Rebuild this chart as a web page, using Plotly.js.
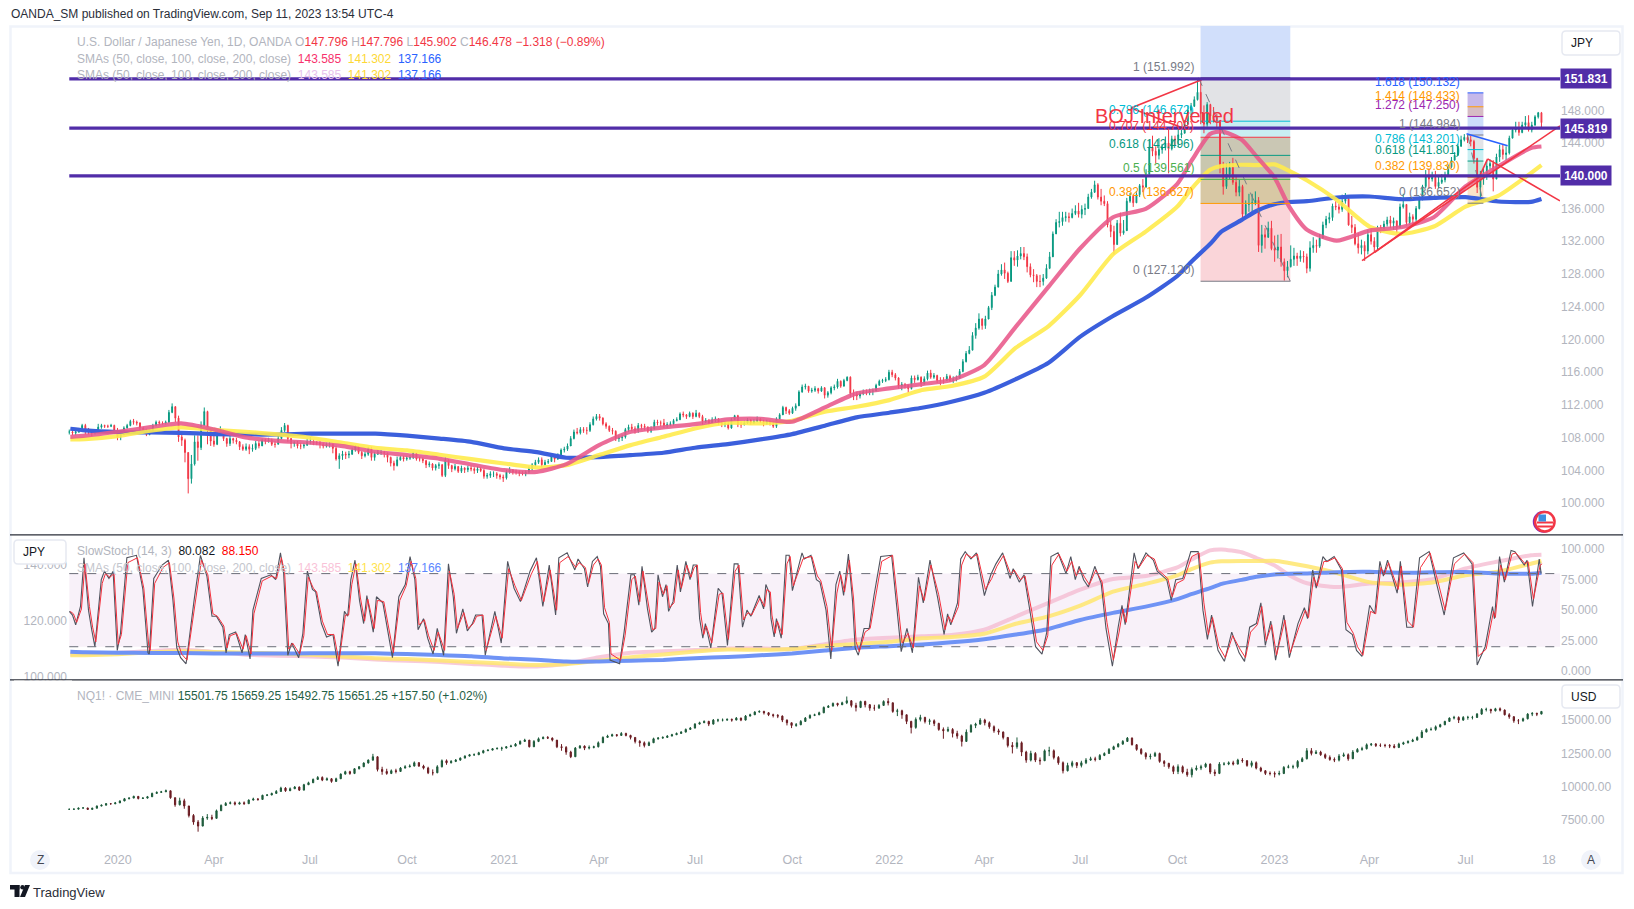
<!DOCTYPE html>
<html>
<head>
<meta charset="utf-8">
<script src="https://cdn.plot.ly/plotly-3.0.0.min.js"></script>
<style>html,body{margin:0;padding:0;background:#fff}#chart{width:1634px;height:909px}</style>
</head>
<body>
<div id="chart"></div>
<script>
// ---------- USD/JPY bars (Nov 2019 .. Sep 2023, about ten bars a month)
const usdClose = [
108.7,108.6,108.7,109.0,109.5,
108.9,108.7,108.6,108.7,109.3,109.5,109.4,109.4,109.5,108.9,
108.1,108.4,109.2,109.5,110.0,109.9,109.8,109.2,108.9,108.4,
108.6,109.5,109.9,109.8,109.8,109.9,111.1,111.8,110.4,108.1,
107.7,106.2,103.0,104.8,107.5,106.8,109.5,111.2,108.9,107.6,
107.2,108.5,108.9,107.9,107.3,107.9,107.7,107.5,106.9,106.6,
106.9,106.6,106.7,107.3,107.0,107.7,107.6,107.7,107.2,107.2,
107.9,108.9,109.5,107.9,107.3,107.4,107.0,107.0,107.1,107.5,
107.5,107.4,107.4,107.2,107.0,107.2,107.2,106.7,105.4,105.8,
106.0,105.9,106.0,106.5,106.9,106.2,105.8,106.0,106.6,105.6,
106.0,106.2,106.2,106.1,105.6,104.9,104.6,105.3,105.6,105.4,
105.5,105.6,106.1,105.4,105.4,105.2,104.7,104.8,104.3,104.6,
104.7,103.4,105.3,104.6,104.2,104.5,103.9,104.3,104.1,104.3,
104.2,104.0,104.2,104.0,103.3,103.4,103.6,103.6,103.4,103.2,
103.1,103.8,104.1,103.8,103.8,103.7,103.6,103.8,104.2,104.7,
105.0,105.3,104.7,105.0,105.1,105.7,105.4,105.9,106.5,106.6,
107.0,107.9,108.7,108.6,109.0,108.9,108.9,109.6,110.3,110.6,
110.4,109.7,109.4,108.9,108.8,107.9,108.0,108.1,109.0,109.3,
109.1,108.9,109.5,109.4,109.3,108.8,109.1,109.9,109.8,109.8,
109.5,109.6,109.7,110.1,110.2,110.9,110.8,110.6,111.0,110.6,
111.0,110.6,110.0,110.1,109.8,110.2,110.3,109.8,109.6,109.7,
109.2,110.2,110.7,109.6,109.6,109.8,110.2,109.8,110.0,110.3,
110.0,109.7,110.0,109.7,109.4,110.3,110.8,111.7,111.3,111.0,
111.6,111.9,113.6,114.2,114.3,113.7,113.8,114.0,113.7,114.1,
113.2,113.5,114.1,114.2,114.9,114.3,115.0,115.4,113.4,113.3,
113.1,113.4,113.6,113.5,113.7,113.7,114.4,114.9,115.0,115.1,
116.0,115.7,115.3,114.3,114.5,114.4,114.0,115.3,115.1,115.4,
114.6,115.2,115.9,115.4,115.6,115.0,115.0,115.0,115.5,115.0,
115.1,115.3,116.1,117.3,118.3,118.7,120.5,121.4,122.5,121.7,
122.5,123.9,125.4,126.4,128.0,128.5,128.1,127.1,130.0,129.7,
130.2,130.5,130.1,128.9,127.9,127.8,127.1,127.1,127.5,128.7,
130.1,132.9,134.3,134.4,134.9,135.0,134.9,135.4,135.7,135.3,
135.9,136.0,137.4,138.0,138.9,137.4,136.9,136.6,134.0,133.2,
131.6,134.2,133.0,133.3,136.9,137.5,136.7,137.7,138.8,138.6,
140.2,143.5,143.0,142.5,143.2,143.5,144.0,143.3,144.5,144.4,
145.0,145.2,146.4,148.0,148.5,149.3,150.2,147.6,146.3,148.7,
147.3,147.3,146.6,141.0,138.7,140.2,141.0,139.2,138.0,138.7,
135.3,136.5,136.6,136.7,137.0,131.5,132.8,132.5,133.6,131.1,
130.9,131.3,129.5,128.4,128.9,129.8,130.2,129.9,130.2,130.1,
128.7,131.2,131.5,131.4,132.4,134.0,134.7,134.9,136.3,136.2,
135.9,136.9,137.2,134.0,133.7,131.7,131.2,131.5,130.8,132.8,
132.0,131.3,133.7,133.6,134.1,134.6,134.2,134.5,133.7,136.2,
136.5,134.3,135.0,134.7,136.0,137.2,138.7,139.9,139.6,139.8,
138.7,139.2,139.5,140.1,141.1,141.9,142.5,143.6,144.4,144.7,
144.4,144.2,142.1,138.6,139.7,140.0,141.2,141.5,139.6,142.3,
143.2,142.6,142.8,144.6,145.6,145.9,145.3,146.2,146.5,145.6,
146.2,147.2,147.7,146.5];
const usdHigh = [
109.0,108.9,108.9,109.2,109.7,
109.7,109.2,108.9,109.0,109.7,109.7,109.6,109.6,109.7,109.6,
109.2,108.6,109.4,109.7,110.2,110.3,110.1,109.9,109.3,109.1,
109.0,109.7,110.1,110.1,110.0,110.1,111.4,112.2,111.5,110.7,
108.5,107.9,106.2,105.9,108.3,108.3,110.0,111.7,111.3,109.2,
108.7,109.0,109.4,109.0,108.0,108.2,108.0,108.0,107.6,107.2,
107.3,107.2,107.2,107.6,107.6,107.9,107.9,108.0,107.9,107.6,
108.2,109.3,109.8,109.6,107.8,107.6,107.6,107.4,107.4,107.9,
108.1,107.8,107.6,107.6,107.4,107.4,107.5,107.3,107.0,106.1,
106.4,106.3,106.4,106.8,107.1,107.0,106.4,106.3,106.9,106.9,
106.3,106.5,106.5,106.4,106.2,105.7,105.2,105.7,105.8,105.8,
105.8,105.9,106.3,106.1,105.7,105.6,105.3,105.1,104.9,104.8,
105.0,104.8,105.6,105.3,104.7,104.8,104.5,104.6,104.4,104.6,
104.6,104.4,104.5,104.4,104.2,103.7,103.9,103.9,103.8,103.6,
103.5,104.1,104.4,104.1,104.1,104.0,103.9,104.0,104.5,104.9,
105.3,105.6,105.6,105.3,105.4,106.0,105.8,106.1,106.7,106.9,
107.3,108.2,109.0,109.2,109.3,109.3,109.3,109.9,110.6,110.9,
110.9,110.5,109.9,109.5,109.2,108.9,108.3,108.4,109.2,109.6,
109.7,109.4,109.8,109.7,109.7,109.4,109.4,110.2,110.2,110.1,
110.3,109.9,110.0,110.3,110.5,111.1,111.2,110.9,111.2,111.1,
111.4,111.1,110.8,110.4,110.3,110.5,110.6,110.4,110.0,110.0,
109.9,110.4,110.8,110.8,110.0,110.1,110.4,110.3,110.3,110.6,
110.4,110.2,110.2,110.1,110.0,110.5,111.0,111.9,111.8,111.5,
111.8,112.2,113.8,114.5,114.6,114.3,114.1,114.3,114.1,114.3,
114.2,113.7,114.3,114.5,115.2,115.0,115.2,115.5,115.5,113.9,
113.6,113.7,113.9,113.9,114.0,114.0,114.6,115.1,115.2,115.4,
116.3,116.3,115.9,115.4,114.8,114.7,114.5,115.6,115.6,115.7,
115.5,115.5,116.2,116.3,115.9,115.7,115.4,115.4,115.8,115.7,
115.5,115.6,116.4,117.6,118.6,119.2,120.9,122.0,123.2,122.6,
122.9,124.1,125.8,126.7,128.5,129.2,129.4,128.3,130.8,130.8,
130.9,131.3,131.3,130.5,129.3,128.6,128.0,127.9,128.0,129.2,
130.7,133.2,134.7,135.6,135.6,135.6,135.5,136.0,136.4,136.7,
136.4,136.6,137.8,138.4,139.4,139.1,138.4,137.6,136.9,134.5,
133.9,134.6,135.5,134.6,137.3,137.9,137.7,138.1,139.0,139.6,
140.8,144.4,144.9,143.6,144.6,143.9,144.8,145.9,144.9,144.9,
145.6,145.6,146.8,148.6,148.9,149.7,151.9,151.7,148.6,149.0,
148.8,148.4,147.6,146.8,141.7,141.5,141.7,142.2,139.9,139.5,
138.9,137.0,137.8,137.8,138.1,137.4,134.0,133.6,134.4,134.5,
132.7,132.8,132.9,129.9,129.6,131.5,131.2,130.6,130.9,130.8,
130.5,132.0,132.5,132.2,132.9,134.4,135.1,135.5,136.6,136.9,
136.6,137.7,137.9,137.3,135.1,134.1,133.0,132.2,132.0,133.4,
133.6,132.5,133.9,134.0,134.5,135.0,135.1,134.9,134.5,136.6,
137.8,136.4,135.5,135.3,136.3,137.5,138.9,140.7,140.9,140.5,
140.6,139.9,140.2,140.5,141.4,142.3,142.9,143.9,144.9,145.1,
145.0,144.9,144.4,142.2,140.6,140.9,141.9,142.0,141.9,142.7,
143.8,143.9,143.6,144.9,145.9,146.6,146.6,146.6,147.3,147.4,
146.6,147.4,147.8,147.8];
const usdLow = [
108.4,108.3,108.3,108.6,108.9,
108.4,108.4,108.2,108.4,108.6,109.1,109.2,109.2,109.3,108.6,
107.7,107.7,108.3,109.1,109.4,109.6,109.5,108.9,108.6,108.2,
108.3,108.5,109.4,109.5,109.6,109.6,109.8,111.0,109.9,107.5,
107.0,105.0,101.2,102.4,104.6,105.2,106.5,109.9,107.2,107.0,
106.9,107.1,108.4,107.6,106.9,107.0,107.3,107.2,106.5,106.4,
106.4,106.0,106.3,106.5,106.7,107.0,107.2,107.4,107.0,106.8,
107.2,107.8,108.7,107.5,106.7,106.9,106.7,106.6,106.7,107.0,
107.2,107.1,107.1,106.7,106.7,106.8,106.8,106.1,105.2,104.2,
105.3,105.4,105.5,105.9,106.3,106.0,105.4,105.6,105.8,105.2,
105.2,105.9,105.9,105.6,105.0,104.5,104.0,104.5,105.2,105.1,
105.2,105.3,105.4,105.2,105.1,104.9,104.3,104.4,104.0,104.0,
104.2,103.2,103.2,104.2,103.8,104.0,103.7,103.7,103.7,103.8,
103.9,103.6,103.7,103.8,103.0,103.0,103.1,103.2,103.0,102.9,
102.6,102.9,103.6,103.5,103.5,103.3,103.4,103.3,103.6,104.0,
104.5,104.8,104.4,104.6,104.8,105.1,105.0,105.3,105.9,106.2,
106.4,107.1,107.8,108.4,108.4,108.6,108.4,108.7,109.5,110.1,
110.1,109.5,109.1,108.7,108.4,107.6,107.5,107.6,107.9,108.7,
108.8,108.5,108.6,109.0,108.9,108.6,108.6,109.0,109.5,109.4,
109.2,109.2,109.4,109.5,110.0,110.2,110.5,110.3,110.5,110.3,
110.5,110.4,109.6,109.8,109.5,109.8,109.9,109.6,109.3,109.3,
109.0,109.1,110.2,109.3,109.2,109.5,109.7,109.6,109.7,109.9,
109.8,109.4,109.6,109.5,109.2,109.2,110.3,111.0,110.9,110.8,
110.9,111.3,112.2,113.5,113.9,113.5,113.5,113.6,113.4,113.6,
112.8,112.9,113.3,113.8,114.0,114.1,114.5,114.9,113.0,112.6,
112.6,112.8,113.2,113.2,113.2,113.2,113.7,114.4,114.7,114.8,
115.0,115.4,115.0,114.0,113.8,114.0,113.5,113.9,114.7,115.0,
114.2,114.5,115.0,115.2,115.2,114.7,114.4,114.6,115.1,114.8,
114.7,114.9,115.2,116.0,117.2,118.2,118.7,120.1,121.2,121.2,
121.3,122.6,123.6,125.3,126.4,127.8,127.4,126.9,127.1,129.0,
128.9,129.8,129.7,128.2,127.6,127.0,126.4,126.4,126.6,127.4,
128.6,130.5,132.9,133.7,133.9,134.4,134.3,134.8,135.2,134.9,
134.8,135.2,136.0,137.2,137.9,137.1,136.4,136.3,133.7,132.5,
130.4,131.6,132.6,132.8,133.6,136.7,136.2,136.7,137.4,138.0,
138.8,140.2,142.4,141.5,142.0,142.7,143.1,140.3,143.1,143.7,
143.5,144.6,145.4,146.2,147.4,148.4,149.2,146.3,145.2,146.0,
146.3,146.5,145.9,140.3,137.7,138.4,139.6,138.9,137.5,137.5,
134.5,134.9,135.6,135.5,136.4,130.7,130.6,131.1,132.4,130.9,
129.5,129.9,128.9,127.2,127.6,128.8,129.0,129.0,129.5,129.4,
128.1,128.3,130.6,130.6,131.2,132.3,133.6,134.2,134.5,135.8,
135.4,135.6,136.6,133.9,133.0,131.5,130.5,130.4,129.6,130.4,
131.6,130.7,131.0,133.0,133.2,133.8,133.6,133.4,133.0,133.7,
136.0,133.9,134.0,134.1,134.4,135.9,137.0,138.5,138.4,139.3,
138.4,138.5,139.0,139.2,139.9,140.9,141.9,142.7,143.7,144.2,
144.0,143.6,141.5,137.9,137.3,138.9,139.5,140.8,138.1,139.8,
141.7,142.0,141.9,142.6,144.6,145.3,144.9,145.2,145.9,145.4,
145.3,146.1,147.0,145.9];

// ---------- moving averages, one reading per month plus a few around the turns
const smaDates = ['2019-11-17','2019-12-01','2020-01-01','2020-02-01','2020-03-01','2020-04-01','2020-05-01','2020-06-01','2020-07-01','2020-08-01','2020-09-01','2020-10-01','2020-11-01','2020-12-01','2021-01-01','2021-02-01','2021-03-01','2021-04-01','2021-05-01','2021-06-01','2021-07-01','2021-08-01','2021-09-01','2021-10-01','2021-11-01','2021-12-01','2022-01-01','2022-02-01','2022-03-01','2022-04-01','2022-05-01','2022-06-01','2022-07-01','2022-08-01','2022-09-01','2022-10-01','2022-10-15','2022-11-01','2022-11-12','2022-12-01','2022-12-15','2023-01-01','2023-01-15','2023-02-01','2023-03-01','2023-04-01','2023-05-01','2023-06-01','2023-07-01','2023-08-01','2023-09-01','2023-09-11'];
const sma50 = [108.12,108.25,108.73,109.3,109.75,109.02,108.04,107.63,107.39,106.98,106.29,105.88,105.43,104.74,104.05,103.84,104.78,107.1,108.73,109.26,109.67,110.24,110.32,109.96,111.71,113.42,114.03,114.56,115.05,116.88,121.57,126.46,131.15,134.94,135.96,139.02,141.96,145.1,145.43,144.41,142.37,139.8,136.24,133.39,132.08,133.31,133.71,134.94,138.69,141.14,143.39,143.58];
const sma100 = [107.8,107.84,108.2,108.86,109.26,108.98,108.73,108.41,108.0,107.39,106.78,106.45,105.92,105.39,104.86,104.37,104.66,105.88,107.1,108.12,109.14,109.83,109.75,110.08,111.18,111.79,112.6,113.83,114.32,115.46,119.0,121.65,125.44,130.41,133.18,136.24,138.5,140.73,141.2,141.35,141.3,141.39,140.6,139.43,137.06,133.8,132.9,133.8,136.24,137.55,140.33,141.3];
const sma200 = [109.1,108.9,108.7,108.65,108.6,108.45,108.4,108.4,108.5,108.5,108.5,108.25,107.9,107.5,106.7,106.25,105.56,105.64,105.88,106.17,106.78,107.23,107.8,108.45,109.47,110.49,111.06,111.67,112.4,113.5,115.17,117.17,120.35,122.87,125.1,127.76,129.6,131.67,133.2,134.61,135.7,136.53,136.8,136.9,137.35,137.47,137.14,137.3,137.39,136.86,136.82,137.17];

// ---------- slow stochastic: readings at the visible turns, by chart bar number
const stochBars = [0,1,2,3.5,4.6,6,7,8,10,11,12.4,13.7,15,16,18,21,23,24.6,25,26.4,29,31,32.4,33.6,34.8,36.5,39,41,43,44.6,46,48,49,50,52,54,55,56.5,57.4,58.6,60,63,64.5,66,67,68.3,69.5,71.7,73,74.4,76,77,78.8,80.4,82.4,84,86,87,88,89.3,90.7,92,93,95,96,98,101,103,105,106.5,108,109,110.7,112,113.7,115,117,118.5,120,121,123,124.4,126,127,129,130,133,135,137,139,141,144,146,148,150,152,153,155.6,
158,159,161,162,163.5,165,166,167,168.5,169,172,173.4,175.5,176.6,178,179,180.7,182,183,184,185.4,186.5,187.3,188.7,190,191,192.7,194,195,196,197,198,198.8,200.5,202.8,204,205.7,207.8,209,210.4,211.8,213,215.6,217,217.7,218.8,219.3,220.3,221,222.5,224,225,226,229,229.7,231.8,233.5,234.6,236.5,238,239.6,240.8,242,243.5,244.8,245.6,246.6,248.4,250,251.5,253.6,257,260,261.8,263.5,265.4,266.9,269,271.4,273.4,274.5,275.5,277.6,278.6,280,281.8,283.5,286,288,289.6,291.7,294,295,296.9,298.4,300.5,302,304,305.5,306.8,309,
311.5,313,314.4,315.6,317,318.5,320.5,322.5,324,326,327.8,329,330,332.8,334,336.5,338.8,340,343,344.4,345.8,348,350.5,352.8,354.3,355.7,357,359,361,363.3,365.6,367.3,368.9,371,372.4,373.8,375.5,377,379.6,381.3,384,386,387,388.6,389.7,391.8,393,395.3,397.6,399,401,402.3,404,406.4,408,409.6,410.7,412,415,416,418,419.8,422,425,427.3,429.7,432.6,435.8,438.4,440,442.5,444.8,445.4,447,448.5,450.6,451.8,454.7,455.6,457.3,459.4,460];
const stochK = [49,46,38,53,93,50,34,20,75,82,76,82,17,31,93,95,67,15,14,76,87,91,58,19,11,6,58,95,78,45,45,36,15,30,32,15,30,10,50,62,76,79,75,97,80,13,23,11,31,82,67,65,39,28,30,4,49,45,75,91,58,39,62,32,61,56,11,61,71,94,75,34,43,27,14,35,13,88,61,31,51,33,39,46,46,13,49,23,90,68,57,82,93,53,87,46,93,97,
83,92,84,69,90,94,86,47,39,9,6,32,79,79,54,86,51,32,35,79,61,71,49,57,87,65,90,75,87,87,43,27,39,19,68,64,21,88,88,36,50,45,62,51,71,64,43,28,43,27,95,95,66,97,92,95,75,73,50,10,71,82,62,96,57,19,13,35,35,62,94,95,16,35,15,77,56,91,60,30,47,38,56,92,98,92,97,62,79,88,97,76,84,73,79,45,20,14,32,94,97,
80,94,75,86,75,69,86,72,35,4,36,54,38,97,84,97,91,82,75,58,75,76,98,98,50,26,46,17,8,32,15,8,36,39,56,21,41,9,46,11,39,52,43,83,68,94,90,94,83,34,30,17,12,54,47,90,78,91,64,90,36,36,93,98,72,46,93,97,88,5,20,53,43,94,73,99,98,87,91,53,92,80];
const stochD = [49,47,40,51,88,53,36,24,72,80,77,80,22,30,89,93,68,19,17,72,85,89,60,24,14,9,55,91,79,47,45,37,19,29,31,18,29,14,47,60,74,78,76,93,81,18,23,14,29,77,68,65,41,30,30,8,46,46,71,88,60,41,59,35,58,57,15,58,70,90,76,38,42,29,17,32,17,82,63,35,48,35,39,45,46,17,45,27,84,70,58,79,90,57,83,50,89,94,
85,89,85,72,87,92,87,52,40,14,9,29,75,78,57,82,54,34,35,73,63,70,52,56,83,68,87,77,85,87,48,30,37,23,63,64,26,82,87,42,48,46,60,53,67,65,46,31,41,30,88,94,70,92,93,94,78,74,53,17,64,79,65,91,60,24,16,32,35,58,90,95,23,31,19,70,58,87,63,34,45,40,53,87,96,93,96,67,76,86,95,79,83,75,78,49,24,17,29,87,96,
82,90,78,84,77,71,83,73,40,9,32,51,40,90,85,95,92,83,76,61,72,75,94,97,56,30,44,20,11,29,18,11,32,38,53,25,38,13,42,15,36,50,44,77,70,90,90,93,84,40,31,20,13,49,47,85,79,89,67,86,41,36,85,97,75,50,88,96,89,12,18,49,44,87,75,96,97,88,90,59,87,88];

// ---------- NQ1! bars, about seven a month
const nqClose = [8310,8320,8400,
8410,8300,8390,8550,8620,8730,8720,
8790,8930,9100,9150,9280,9120,9150,
9250,9500,9580,9620,9700,9180,8650,
8950,8560,7850,7350,7050,7650,7700,
7630,8200,8600,8750,8800,8700,8800,
8730,9000,9080,9050,9360,9380,9500,
9650,9900,9700,9850,9980,9750,10150,
10300,10550,10700,10500,10600,10400,10600,
10950,11130,11000,11350,11500,11780,12000,
12250,11300,11150,11000,11200,11150,11400,
11500,11550,11800,11550,11400,11050,11050,
11500,11950,11800,11900,12000,12150,12300,
12400,12400,12550,12700,12750,12850,12880,
12900,13000,13050,13200,13400,13500,13000,
13400,13600,13700,13650,13500,13000,12950,
12600,12250,12900,13050,12900,12950,13000,
13300,13700,13800,13900,13850,14000,13850,
13700,13400,13300,13100,13300,13600,13650,
13700,13800,13900,14000,14100,14300,14400,
14700,14800,14900,14700,15000,15000,15000,
15050,15000,15150,15000,15300,15400,15600,
15650,15550,15400,15350,15300,15000,14800,
14600,14650,14900,15150,15350,15400,15550,
15950,16050,16250,16150,16300,16450,16100,
15950,16400,16150,15900,15900,16100,16400,
16300,15650,15700,15400,14900,14450,15050,
15200,14900,14950,14750,14300,14200,14300,
14000,13800,13400,14100,14600,14700,15000,
14800,14500,14200,14100,13700,13100,13000,
13300,12600,12000,12500,12000,11950,12700,
12700,12200,11800,11200,11600,11800,11600,
11800,12000,12100,12050,12350,12500,12800,
13000,13200,13400,13650,13150,12800,12500,
12250,12300,12500,11900,11750,11500,11150,
11500,11100,10900,11300,11400,11500,11700,
11100,11000,11700,11700,11800,11700,12000,
11950,11600,11800,11400,11200,11000,11000,
10950,11000,11450,11500,11500,11900,12100,
12700,12500,12600,12400,12200,12050,12000,
12300,12400,12100,12600,12800,12850,13150,
13200,13100,13100,13100,13050,12950,13200,
13300,13400,13500,13700,14100,14300,14300,
14500,14650,14900,15150,15200,15000,15200,
15200,15200,15450,15800,15800,15700,15850,
15750,15400,15250,14950,14950,15100,15450,
15500,15450,15651];
const nqHigh = [8350,8370,8430,
8480,8420,8430,8600,8660,8770,8770,
8860,8980,9160,9210,9330,9290,9220,
9310,9560,9650,9690,9790,9700,9180,
9180,9100,8480,7950,7500,7800,7950,
7900,8290,8680,8850,8900,8900,8880,
8900,9050,9180,9150,9400,9450,9560,
9750,10000,9970,9950,10050,10020,10220,
10380,10620,10800,10780,10700,10650,10680,
11000,11200,11200,11400,11550,11830,12050,
12470,12100,11500,11350,11300,11350,11480,
11620,11680,11900,11850,11650,11500,11300,
11620,12050,12050,12000,12080,12200,12360,
12460,12500,12620,12770,12800,12900,12950,
13000,13050,13150,13280,13480,13600,13500,
13500,13700,13780,13800,13700,13500,13200,
13050,12700,12980,13130,13100,13100,13080,
13400,13780,13900,13980,13950,14100,14050,
13900,13700,13500,13400,13400,13680,13730,
13780,13870,13970,14070,14170,14370,14480,
14770,14880,14980,14950,15080,15100,15120,
15130,15120,15230,15180,15380,15480,15670,
15730,15700,15600,15480,15450,15350,15050,
14800,14780,15000,15230,15430,15480,15630,
16020,16120,16320,16300,16380,16770,16500,
16300,16450,16450,16200,16150,16200,16480,
16650,16300,15850,15780,15400,14950,15200,
15400,15250,15100,15050,14800,14450,14500,
14400,14200,13900,14300,14700,14800,15150,
15100,14900,14600,14350,14150,13700,13350,
13700,13400,12700,12700,12600,12200,12800,
13000,12800,12300,11900,11800,11950,11850,
11950,12150,12250,12250,12450,12580,12900,
13080,13280,13500,13730,13700,13200,12900,
12600,12480,12620,12560,12000,11800,11600,
11680,11600,11350,11450,11600,11650,11800,
11750,11300,11850,11850,11900,11950,12100,
12150,12000,11950,11900,11500,11250,11150,
11150,11200,11550,11650,11650,12000,12220,
12900,12900,12750,12700,12500,12350,12200,
12450,12560,12500,12750,12900,13000,13250,
13280,13280,13250,13220,13200,13200,13300,
13380,13480,13600,13780,14250,14380,14450,
14600,14720,14950,15200,15320,15280,15300,
15320,15320,15530,15900,15930,15850,15920,
15950,15800,15520,15300,15080,15180,15520,
15600,15560,15659];
const nqLow = [8270,8280,8310,
8380,8260,8290,8400,8540,8630,8670,
8700,8780,8950,9060,9150,9050,9080,
9120,9280,9500,9550,9620,9100,8500,
8600,8350,7700,7150,6630,7100,7520,
7500,7630,8200,8600,8680,8600,8680,
8650,8720,8980,8950,9040,9300,9370,
9500,9640,9620,9680,9840,9680,9720,
10150,10290,10530,10420,10480,10300,10380,
10580,10920,10900,10950,11300,11480,11750,
11950,11150,10900,10900,10950,11000,11120,
11380,11450,11530,11500,11300,10950,10850,
11020,11450,11650,11750,11850,11950,12130,
12280,12320,12380,12500,12680,12730,12800,
12700,12880,12980,13030,13180,13380,12950,
12980,13350,13600,13580,13400,12900,12700,
12400,12150,12260,12880,12750,12800,12880,
12950,13280,13700,13780,13750,13820,13780,
13550,13250,13000,12950,13050,13280,13530,
13600,13680,13820,13900,13980,14080,14270,
14380,14680,14800,14550,14670,14850,14900,
14950,14880,15000,14920,14980,15280,15380,
15570,15420,15300,15200,15150,14850,14600,
14400,14500,14620,14880,15120,15300,15370,
15520,15920,16030,16030,16130,16200,15950,
15650,15900,15950,15700,15700,15850,16080,
16100,15550,15300,15100,14700,14000,14350,
14900,14750,14650,14550,14200,13600,14100,
13700,13600,13020,13380,14080,14400,14650,
14600,14350,14050,13900,13550,12950,12500,
12850,12300,11800,11900,11850,11650,11950,
12300,12050,11650,11000,11150,11450,11400,
11450,11700,11950,11900,12000,12300,12480,
12780,12950,13150,13380,13100,12700,12400,
12050,12050,12250,11800,11500,11350,10950,
10950,10990,10750,10700,11200,11250,11420,
10950,10800,10950,11600,11620,11600,11680,
11800,11500,11450,11300,11100,10880,10850,
10700,10850,10950,11380,11350,11380,11850,
12050,12350,12450,12320,12080,11950,11850,
11900,12250,11950,12080,12600,12700,12800,
13050,12980,12980,12950,12900,12880,12900,
13150,13250,13350,13470,13650,14100,14200,
14200,14450,14620,14880,15050,14780,14950,
15030,15050,15170,15400,15650,15500,15650,
15650,15350,15100,14800,14700,14880,15050,
15300,15300,15492];

// ---------- axis ticks
const timeTickDates = ['2020-01-01','2020-04-01','2020-07-01','2020-10-01','2021-01-01','2021-04-01','2021-07-01','2021-10-01','2022-01-01','2022-04-01','2022-07-01','2022-10-01','2023-01-01','2023-04-01','2023-07-01','2023-09-18'];
const timeTickLabels = ['2020','Apr','Jul','Oct','2021','Apr','Jul','Oct','2022','Apr','Jul','Oct','2023','Apr','Jul','18'];
const priceTicks = [100,104,108,112,116,120,124,128,132,136,140,144,148];
const stochTicks = [0,25,50,75,100];
const stochPriceTicks = [100,120,140];
const nqTicks = [7500,10000,12500,15000];

// ---------- drawn levels and Fibonacci tools
const hLevels = [151.831,145.819,140.0];
const hLevelLabels = ['151.831','145.819','140.000'];
const fibAValues = [151.992,146.672,144.708,142.496,139.561,136.627,127.12];
const fibALabels = ['1 (151.992)','0.786 (146.672)','0.707 (144.708)','0.618 (142.496)','0.5 (139.561)','0.382 (136.627)','0 (127.120)'];
const fibALine = ['#787b86','#00bcd4','#f23645','#089981','#4caf50','#ff9800','#787b86'];
const fibAFill = ['#e2e3e6','#c9eef2','#cac7b4','#c9c7ae','#d8c8a4','#fad5d9'];
const fibBValues = [150.132,148.433,147.25,144.984,143.201,141.801,139.83,136.652];
const fibBLabels = ['1.618 (150.132)','1.414 (148.433)','1.272 (147.250)','1 (144.984)','0.786 (143.201)','0.618 (141.801)','0.382 (139.830)','0 (136.652)'];
const fibBLine = ['#2962ff','#ff9800','#9c27b0','#787b86','#00bcd4','#089981','#ff9800','#787b86'];
const fibBFill = ['#c5b8ea','#d6bcc5','#cddcfb','#e2e3e6','#c9eef2','#c4e8e0','#fbe3c9'];

const W = 1634, H = 909;
const pX = v => v / W, pY = v => 1 - v / H;
const FONT = '"Liberation Sans", Arial, sans-serif';
const GREY = '#b2b5be';
const DAY = 86400000;
const lastBar = Date.UTC(2023, 8, 11);
const firstBar = Date.UTC(2019, 10, 16);
const iso = ms => new Date(ms).toISOString().slice(0, 19).replace('T', ' ');
const spread = n => Array.from({length: n}, (_, i) => iso(firstBar + i * (lastBar - firstBar) / (n - 1)));
const usdDates = spread(usdClose.length);
const nqDates = spread(nqClose.length);
const stochDatesK = stochBars.map(b => iso(firstBar + b * 3.032 * DAY));
const stochDatesD = stochBars.map(b => iso(firstBar + (b + 0.3) * 3.032 * DAY));
const opens = c => c.map((v, i) => i ? c[i - 1] : v);

const rangeStart = '2019-09-21 05:00', rangeEnd = '2023-09-28 14:00', dataStart = '2019-11-16';

const sma = (x, y, yaxis, color, w, op) => ({type: 'scatter', mode: 'lines', x, y, yaxis, opacity: op,
  line: {color, width: w, shape: 'spline', smoothing: 0.6}, hoverinfo: 'skip'});

const traces = [
  {type: 'candlestick', x: usdDates, open: opens(usdClose), high: usdHigh, low: usdLow, close: usdClose, yaxis: 'y',
    increasing: {line: {color: '#089981', width: 1}, fillcolor: '#089981'},
    decreasing: {line: {color: '#f23645', width: 1}, fillcolor: '#f23645'}, whiskerwidth: 0},
  sma(smaDates, sma200, 'y', '#3b5fdc', 4.2, 1),
  sma(smaDates, sma100, 'y', '#ffeb4d', 4.2, 0.9),
  sma(smaDates, sma50, 'y', '#e8588a', 4.2, 0.88),
  sma(smaDates, sma50, 'y2', '#f4b8cf', 4, 0.75),
  sma(smaDates, sma100, 'y2', '#ffe66e', 4, 0.85),
  sma(smaDates, sma200, 'y2', '#6f93f5', 4, 1),
  {type: 'scatter', mode: 'lines', x: stochDatesK, y: stochK, yaxis: 'y4', line: {color: '#50535e', width: 1.1}, hoverinfo: 'skip'},
  {type: 'scatter', mode: 'lines', x: stochDatesD, y: stochD, yaxis: 'y4', line: {color: '#f4303c', width: 1}, hoverinfo: 'skip'},
  {type: 'candlestick', x: nqDates, open: opens(nqClose), high: nqHigh, low: nqLow, close: nqClose, yaxis: 'y3', xaxis: 'x',
    increasing: {line: {color: '#1c5a3a', width: 1}, fillcolor: '#1c5a3a'},
    decreasing: {line: {color: '#6b1c22', width: 1}, fillcolor: '#6b1c22'}, whiskerwidth: 0}
];

const shapes = [];
const rect = (x0, x1, y0, y1, fill, layer) => shapes.push({type: 'rect', xref: 'x', yref: 'y', x0, x1, y0, y1, fillcolor: fill, line: {width: 0}, layer: layer || 'below'});
const seg = (x0, y0, x1, y1, color, width, dash, yref) => shapes.push({type: 'line', xref: 'x', yref: yref || 'y', x0, x1, y0, y1, line: {color, width, dash: dash || 'solid'}, layer: 'above'});
const paperRect = (x0, y0, x1, y1, fill, lineColor, lw, layer) => shapes.push({type: 'rect', xref: 'paper', yref: 'paper', x0: pX(x0), x1: pX(x1), y0: pY(y1), y1: pY(y0), fillcolor: fill, line: {color: lineColor || 'rgba(0,0,0,0)', width: lw || 0}, layer: layer || 'above'});
const paperCircle = (cx, cy, r, fill, lineColor, lw) => shapes.push({type: 'circle', xref: 'paper', yref: 'paper', x0: pX(cx - r), x1: pX(cx + r), y0: pY(cy + r), y1: pY(cy - r), fillcolor: fill, line: {color: lineColor || 'rgba(0,0,0,0)', width: lw || 0}, layer: 'above'});
const paperPath = (pts, fill) => shapes.push({type: 'path', xref: 'paper', yref: 'paper', path: 'M' + pts.map(p => pX(p[0]) + ',' + pY(p[1])).join(' L') + ' Z', fillcolor: fill, line: {width: 0}, layer: 'above'});

// frame
paperRect(10.5, 26.5, 1622.5, 873, 'rgba(0,0,0,0)', '#f0f3fa', 2.5, 'below');

// stochastic band
rect(dataStart, rangeEnd, 20, 80, '#f8f1f9');
shapes[shapes.length - 1].yref = 'y4';

// Fib A
const fa0 = '2022-10-23', fa1 = '2023-01-16';
rect(fa0, fa1, fibAValues[0], 158.3, '#d1dffb');
fibAFill.forEach((c, i) => rect(fa0, fa1, fibAValues[i + 1], fibAValues[i], c));
fibAValues.forEach((v, i) => seg(fa0, v, fa1, v, fibALine[i], 1));
seg('2022-10-21', 151.99, fa1, 127.12, '#787b86', 1, 'dash');

// Fib B
const fb0 = '2023-07-03', fb1 = '2023-07-18';
fibBFill.forEach((c, i) => rect(fb0, fb1, fibBValues[i + 1], fibBValues[i], c));
fibBValues.forEach((v, i) => seg(fb0, v, fb1, v, fibBLine[i], 1));
seg(fb0, 144.98, fb1, 136.65, '#787b86', 1, 'dash');

// dashed stochastic guides
seg(dataStart, 80, rangeEnd, 80, '#6a6d78', 1, 'dash', 'y4');
seg(dataStart, 20, rangeEnd, 20, '#6a6d78', 1, 'dash', 'y4');

// trend lines
seg('2022-08-18', 148.27, '2022-10-24', 151.73, '#f23645', 1.6);
seg('2022-08-18', 148.27, '2022-10-05', 145.9, '#f23645', 1.6);
seg('2023-03-25', 129.64, rangeEnd, 146.1, '#f23645', 1.6);
seg('2023-04-06', 130.66, '2023-07-14', 139.83, '#f23645', 1.6);
seg('2023-07-14', 139.83, '2023-07-22', 142.07, '#f23645', 1.6);
seg('2023-07-22', 142.07, rangeEnd, 136.94, '#f23645', 1.6);
seg('2023-07-02', 145.13, '2023-08-10', 143.66, '#2962ff', 1.6);

// horizontal levels
hLevels.forEach(v => seg(dataStart, v, rangeEnd, v, '#512da8', 3.2));

// pane separators
paperRect(10, 534.3, 1623, 535.6, '#2a2e39');
paperRect(10, 679.2, 1623, 680.5, '#2a2e39');
// clip of the 100.000 overlay label beneath the separator
paperRect(14, 680.6, 72, 692, '#ffffff');

// boxes
const roundBox = (x0, y0, x1, y1) => shapes.push({type: 'path', xref: 'paper', yref: 'paper',
  path: `M${pX(x0 + 4)},${pY(y0)} L${pX(x1 - 4)},${pY(y0)} Q${pX(x1)},${pY(y0)} ${pX(x1)},${pY(y0 + 4)} L${pX(x1)},${pY(y1 - 4)} Q${pX(x1)},${pY(y1)} ${pX(x1 - 4)},${pY(y1)} L${pX(x0 + 4)},${pY(y1)} Q${pX(x0)},${pY(y1)} ${pX(x0)},${pY(y1 - 4)} L${pX(x0)},${pY(y0 + 4)} Q${pX(x0)},${pY(y0)} ${pX(x0 + 4)},${pY(y0)} Z`,
  fillcolor: '#ffffff', line: {color: '#e6e9f1', width: 1.5}, layer: 'above'});
roundBox(1562, 31, 1620, 55);
roundBox(14, 540, 66, 564);
roundBox(1562, 685, 1620, 708);
paperCircle(40, 860, 10, '#f0f3fa');
paperCircle(1591, 860, 10, '#f0f3fa');

// US flag marker
paperCircle(1543.8, 521.7, 11, '#7b2cbf');
paperCircle(1544.8, 521.7, 11, '#f23645');
paperCircle(1544.8, 521.7, 8.5, '#ffffff');
paperRect(1537, 521.5, 1553, 523.5, '#f23645');
paperRect(1537.5, 525.5, 1552, 527.5, '#f23645');
paperRect(1538.5, 514.5, 1546, 521.5, '#3d8fe0');

// TradingView logo
paperRect(10, 885, 19.5, 889.5, '#131722');
paperRect(14.5, 885, 19.5, 897, '#131722');
paperCircle(22.5, 887.2, 2.2, '#131722');
paperPath([[25, 885], [30, 885], [25, 897], [20, 897]], '#131722');

// ---------- texts
const ann = [];
const note = (x, y, text, size, color, anchor, extra) => ann.push(Object.assign({xref: 'paper', yref: 'paper', x: pX(x), y: pY(y), text, showarrow: false, xanchor: anchor || 'left', yanchor: 'middle', font: {family: FONT, size: size || 12, color: color || '#131722'}}, extra || {}));
const sp = (t, c) => `<span style="color:${c}">${t}</span>`;
const RED = '#f23645', PK = '#f7316d', YL = '#fdd835', BL = '#2962ff';
const GAP = '&#160;&#160;', GAP1 = '&#160;';

note(9, 14.5, 'OANDA_SM published on TradingView.com, Sep 11, 2023 13:54 UTC-4', 12, '#2a2e39');
note(75, 41.7, 'U.S. Dollar / Japanese Yen, 1D, OANDA' + GAP1 + 'O' + sp('147.796', RED) + GAP1 + 'H' + sp('147.796', RED) + GAP1 + 'L' + sp('145.902', RED) + GAP1 + 'C' + sp('146.478', RED) + GAP1 + sp('−1.318 (−0.89%)', RED), 12, GREY);
note(75, 58.5, 'SMAs (50, close, 100, close, 200, close)' + GAP + sp('143.585', PK) + GAP + sp('141.302', YL) + GAP + sp('137.166', BL), 12, GREY);
note(75, 75.5, 'SMAs (50, close, 100, close, 200, close)' + GAP + sp('143.585', '#e8c2ec') + GAP + sp('141.302', YL) + GAP + sp('137.166', BL), 12, GREY);
note(75, 550.7, 'SlowStoch (14, 3)' + GAP + sp('80.082', '#131722') + GAP + sp('88.150', '#ff0000'), 12, GREY);
note(75, 568, 'SMAs (50, close, 100, close, 200, close)' + GAP + sp('143.585', '#f9c3d8') + GAP + sp('141.302', '#ffe34d') + GAP + sp('137.166', '#5b86ff'), 12, '#c4c6cd');
note(75, 696, 'NQ1! · CME_MINI' + GAP1 + sp('15501.75' + GAP1 + '15659.25' + GAP1 + '15492.75' + GAP1 + '15651.25' + GAP1 + '+157.50 (+1.02%)', '#1f6045'), 12, GREY);
note(1569, 43, 'JPY', 12, '#131722');
note(21, 552, 'JPY', 12, '#131722');
note(1569, 697, 'USD', 12, '#131722');
note(40, 860, 'Z', 12, '#434651', 'center');
note(1591, 860, 'A', 12, '#434651', 'center');
note(31, 892, 'TradingView', 13, '#2a2e39');

const fibLabel = (x, v, text, color) => ann.push({xref: 'x', yref: 'y', x, y: v, yshift: 11, xanchor: 'right', yanchor: 'middle', showarrow: false, text, font: {family: FONT, size: 12, color}});
fibAValues.forEach((v, i) => fibLabel('2022-10-19', v, fibALabels[i], fibALine[i]));
fibBValues.forEach((v, i) => fibLabel('2023-06-28', v, fibBLabels[i], fibBLine[i]));

ann.push({xref: 'paper', yref: 'paper', x: pX(1164), y: pY(116), text: 'BOJ Intervened', showarrow: false, xanchor: 'center', yanchor: 'middle', font: {family: FONT, size: 20, color: '#f23645'}});

hLevels.forEach((v, i) => ann.push({xref: 'paper', yref: 'y', x: pX(1560), y: v, xanchor: 'left', yanchor: 'middle', showarrow: false, text: '<b>' + hLevelLabels[i] + '</b>', font: {family: FONT, size: 12, color: '#ffffff'}, bgcolor: '#512da8', width: 50, height: 19, align: 'center', borderpad: 0}));

const yCommon = {showgrid: false, zeroline: false, showline: false, ticks: '', fixedrange: true, tickfont: {family: FONT, size: 12, color: GREY}, tickmode: 'array'};

const layout = {
  width: W, height: H, margin: {l: 0, r: 0, t: 0, b: 0}, autosize: false,
  paper_bgcolor: '#ffffff', plot_bgcolor: 'rgba(0,0,0,0)', showlegend: false, hovermode: false, boxgap: 0.62,
  xaxis: {type: 'date', domain: [pX(10.4), pX(1560)], range: [rangeStart, rangeEnd], anchor: 'y3', fixedrange: true,
    showgrid: false, zeroline: false, showline: false, ticks: 'outside', ticklen: 2, tickcolor: 'rgba(0,0,0,0)', tickmode: 'array', tickvals: timeTickDates, ticktext: timeTickLabels,
    tickfont: {family: FONT, size: 12.5, color: GREY}, rangeslider: {visible: false}},
  yaxis: Object.assign({}, yCommon, {domain: [pY(534.6), pY(26)], range: [96.17, 158.3], side: 'right', anchor: 'x', tickvals: priceTicks, tickformat: '.3f'}),
  yaxis2: Object.assign({}, yCommon, {domain: [pY(679.5), pY(534.6)], range: [99.2, 150.7], side: 'left', anchor: 'free', position: pX(67), tickvals: stochPriceTicks, tickformat: '.3f'}),
  yaxis4: Object.assign({}, yCommon, {overlaying: 'y2', range: [-6.9, 112], side: 'right', anchor: 'x', tickvals: stochTicks, tickformat: '.3f'}),
  yaxis3: Object.assign({}, yCommon, {domain: [pY(846), pY(679.5)], range: [5557, 18045], side: 'right', anchor: 'x', tickvals: nqTicks, tickformat: '.2f'}),
  shapes, annotations: ann
};

Plotly.newPlot('chart', traces, layout, {staticPlot: true, displayModeBar: false});
</script>
</body>
</html>
